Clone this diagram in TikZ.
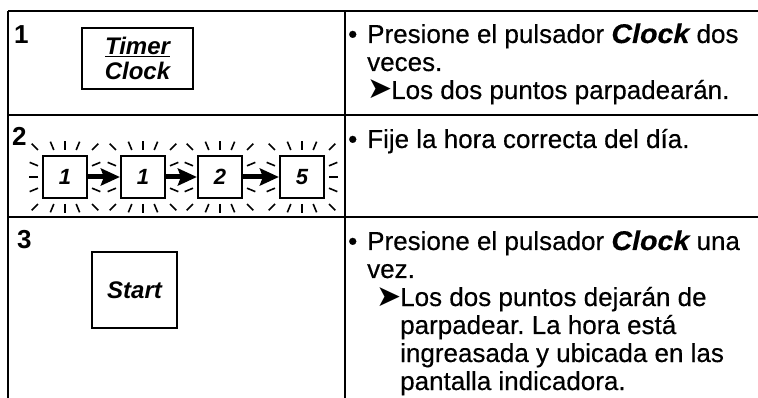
\documentclass[tikz,border=0pt]{standalone}
\usepackage{fontspec}
\usepackage{graphicx}
\setmainfont{Liberation Sans}
\newfontfamily\scanfont{Liberation Sans}[FakeBold=0.4]
\newfontfamily\dejavu{DejaVu Sans}
\usetikzlibrary{arrows.meta,calc}
\frenchspacing
\newcommand\pointer{\makebox[24pt][l]{\dejavu\fontsize{30}{30}\selectfont ➤}}
\newcommand\clockword{\scalebox{1.1}[1.04]{\bfseries\itshape Clock}}
\begin{document}
\begin{tikzpicture}[x=1pt,y=-1pt,
  frame/.style={line width=1.7pt},
  btn/.style={draw, line width=1.7pt, inner sep=0pt, align=center,
    font=\fontsize{24}{25}\selectfont\bfseries\itshape},
  digit/.style={draw, line width=2.2pt, inner sep=0pt, minimum width=44pt, minimum height=42pt,
    font=\fontsize{22}{24}\selectfont\bfseries\itshape},
  stepnum/.style={anchor=base west, inner sep=0pt, font=\fontsize{26}{28}\selectfont\bfseries},
  txt/.style={anchor=base west, inner sep=0pt, font=\scanfont\fontsize{26}{28}\selectfont\frenchspacing},
  ray/.style={line width=1.6pt},
  flow/.style={line width=5pt, -{Stealth[length=19pt,width=17pt,inset=3pt]}}
]
\useasboundingbox (0,0) rectangle (758,398);
% table
\draw[frame] (8,11) -- (758,11);
\draw[frame] (8,115) -- (758,115);
\draw[frame] (8,217) -- (758,217);
\draw[frame] (8,11) -- (8,398);
\draw[frame] (345,11) -- (345,398);
% row 1
\node[stepnum] (n1) at (14,44) {1};
\node[btn, minimum width=111pt, minimum height=61pt] (tc) at (137.5,58.5) {\underline{Timer}\\Clock};
% row 2
\node[stepnum] (n2) at (12,146) {2};
\node[digit] (d1) at (65,177) {1};
\node[digit] (d2) at (143,177) {1};
\node[digit] (d3) at (220,177) {2};
\node[digit] (d4) at (302,177) {5};
\foreach \b in {d1,d2,d3,d4}{
  \foreach \a in {0,22.5,...,337.5}{
    \pgfmathsetmacro\r{27/max(abs(cos(\a)),abs(sin(\a)))}
    \draw[ray] ($(\b.center)+(\a:\r)$) -- ($(\b.center)+(\a:\r+9)$);
  }
}
\draw[flow] (d1.east) -- (d2.west);
\draw[flow] (d2.east) -- (d3.west);
\draw[flow] (d3.east) -- (d4.west);
% row 3
\node[stepnum] (n3) at (17,249) {3};
\node[btn, minimum width=85pt, minimum height=76pt] (st) at (134.5,290) {Start};
% right column, row 1
\node[txt] (b1) at (348,43) {\textbullet};
\node[txt] (l11) at (367,43) {Presione el pulsador \clockword\ dos};
\node[txt] (l12) at (367,71) {veces.};
\node[txt] (l13) at (367,99) {\pointer Los dos puntos parpadearán.};
% row 2
\node[txt] (b2) at (348,148) {\textbullet};
\node[txt] (l21) at (367,148) {Fije la hora correcta del día.};
% row 3
\node[txt] (b3) at (348,250) {\textbullet};
\node[txt] (l31) at (367,250) {Presione el pulsador \clockword\ una};
\node[txt] (l32) at (367,278) {vez.};
\node[txt] (l33) at (376,306) {\pointer Los dos puntos dejarán de};
\node[txt] (l34) at (400,334) {parpadear. La hora está};
\node[txt] (l35) at (400,362) {ingreasada y ubicada en las};
\node[txt] (l36) at (400,390) {pantalla indicadora.};
\end{tikzpicture}
\end{document}
